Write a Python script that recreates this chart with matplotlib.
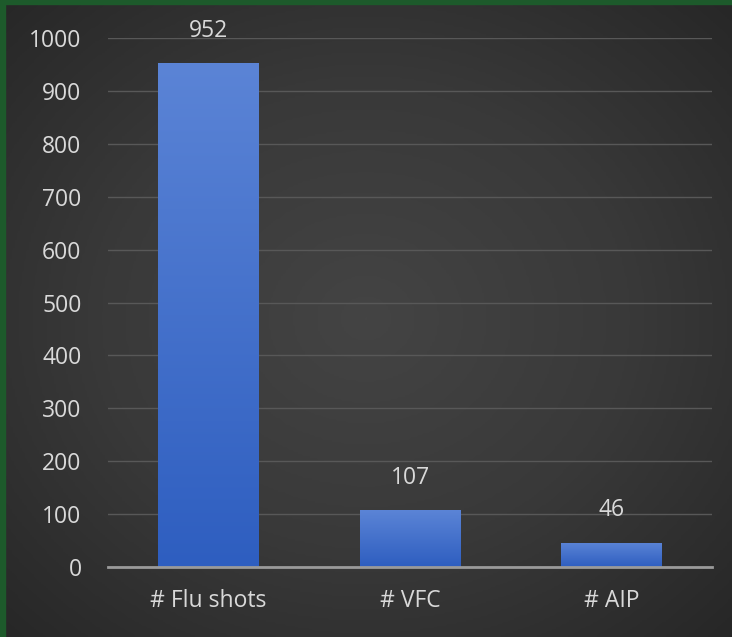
import matplotlib.pyplot as plt
import numpy as np
from matplotlib.colors import LinearSegmentedColormap

plt.rcParams["font.family"] = ["Open Sans", "DejaVu Sans"]

categories = ["# Flu shots", "# VFC", "# AIP"]
values = [952, 107, 46]
yticks = [0, 100, 200, 300, 400, 500, 600, 700, 800, 900, 1000]

fig = plt.figure(figsize=(7.32, 6.37), dpi=100)

# background: dark radial gradient, green strip on top and left edge
bg = fig.add_axes([0, 0, 1, 1], zorder=-10)
yy, xx = np.mgrid[-1:1:300j, -1:1:300j]
r = np.sqrt(xx**2 + yy**2)
bg_cmap = LinearSegmentedColormap.from_list("bg", ["#444444", "#393939", "#262626"])
bg.imshow(r, cmap=bg_cmap, extent=[0, 1, 0, 1], aspect="auto", vmin=0, vmax=1.45)
bg.axhspan(1 - 4 / 637, 1, color="#1d5a2b")
bg.axvspan(0, 5 / 732, color="#1d5a2b")
bg.set_xlim(0, 1)
bg.set_ylim(0, 1)
bg.set_axis_off()

ax = fig.add_axes([0.1475, 0.1099, 0.8252, 0.8304])
ax.patch.set_alpha(0)

x = np.arange(len(categories))
bars = ax.bar(x, values, width=0.5, color="#4472c4", zorder=3)

bar_cmap = LinearSegmentedColormap.from_list("bar", ["#2e5ec0", "#5b84d6"])
grad = np.linspace(0, 1, 256).reshape(-1, 1)
for b in bars:
    x0 = b.get_x()
    im = ax.imshow(grad, cmap=bar_cmap, origin="lower", aspect="auto",
                   extent=[x0, x0 + b.get_width(), 0, b.get_height()], zorder=4)
    im.set_clip_path(b)

for xi, v in zip(x, values):
    ax.annotate(str(v), (xi, v), xytext=(0, 15), textcoords="offset points",
                ha="center", va="bottom", color="#d9d9d9", fontsize=16.5)

ax.set_xlim(-0.5, 2.5)
ax.set_ylim(0, 1000)
ax.set_yticks(yticks)
ax.set_xticks(x)
ax.set_xticklabels(categories)
ax.tick_params(axis="both", length=0, colors="#d9d9d9", labelsize=16.5)
ax.tick_params(axis="y", pad=19)
ax.tick_params(axis="x", pad=16)
ax.grid(axis="y", color="#585858", linewidth=1, zorder=0)
for s in ["top", "right", "left"]:
    ax.spines[s].set_visible(False)
ax.spines["bottom"].set_color("#9a9a9a")
ax.spines["bottom"].set_linewidth(2)
ax.spines["bottom"].set_zorder(5)

fig.savefig("out.png", dpi=100)
